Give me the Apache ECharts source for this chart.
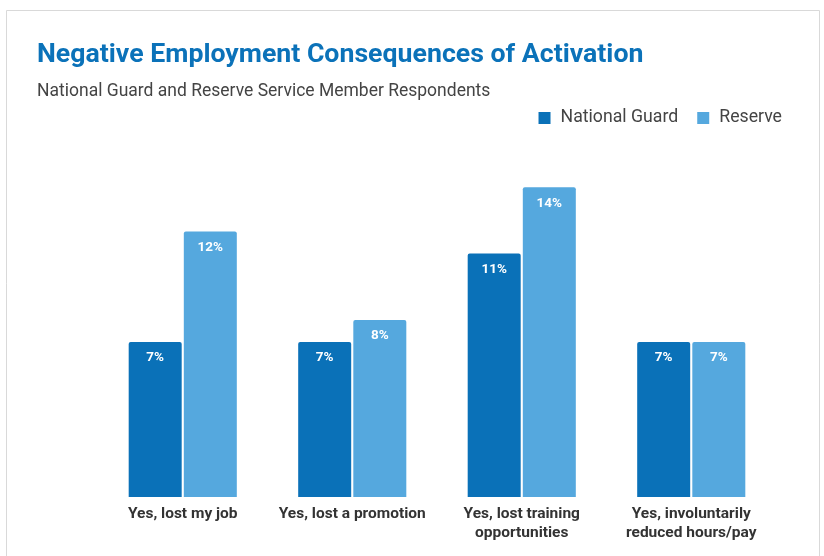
<!DOCTYPE html>
<html><head><meta charset="utf-8">
<script src="https://cdn.jsdelivr.net/npm/echarts@6/dist/echarts.min.js"></script>
<style>html,body{margin:0;padding:0;background:#fff}#c{width:824px;height:556px}</style>
</head><body><div id="c"></div>
<script>
const categories = ['Yes, lost my job', 'Yes, lost a promotion', 'Yes, lost training\nopportunities', 'Yes, involuntarily\nreduced hours/pay'];
const nationalGuard = [7, 7, 11, 7];
const reserve = [12, 8, 14, 7];
const seriesNames = ['National Guard', 'Reserve'];

const chart = echarts.init(document.getElementById('c'), null, {renderer: 'canvas'});
const labelCfg = {show: true, position: 'insideTop', distance: 9, color: '#fff', fontFamily: 'Roboto', fontWeight: 'bold', fontSize: 13.5, formatter: p => p.value + '%'};
chart.setOption({
  animation: false,
  backgroundColor: '#fff',
  graphic: [{type: 'rect', shape: {x: 6.5, y: 10.5, width: 813, height: 560}, style: {fill: '#fff', stroke: '#d9d9d9', lineWidth: 1}, z: -10}],
  title: [{
    text: 'Negative Employment Consequences of Activation',
    left: 37, top: 42, padding: 0,
    textStyle: {fontFamily: 'Roboto', fontWeight: 'bold', fontSize: 26.7, color: '#0b72b9'}
  }, {
    text: 'National Guard and Reserve Service Member Respondents',
    left: 37, top: 83, padding: 0,
    textStyle: {fontFamily: 'Roboto', fontWeight: 'normal', fontSize: 17.5, color: '#444'}
  }],
  legend: {
    data: seriesNames, right: 42, top: 109, padding: 0, itemWidth: 12, itemHeight: 12, itemGap: 19,
    icon: 'rect',
    textStyle: {fontFamily: 'Roboto', fontSize: 17.7, color: '#444', padding: [0, 0, 0, 5]}
  },
  grid: {left: 98, right: 48, top: 165, bottom: 59, containLabel: false},
  xAxis: {
    type: 'category', data: categories,
    axisLine: {show: false}, axisTick: {show: false},
    axisLabel: {fontFamily: 'Roboto', fontWeight: 'bold', fontSize: 15.5, color: '#333', margin: 8, lineHeight: 19, interval: 0}
  },
  yAxis: {type: 'value', min: 0, max: 15, show: false, splitLine: {show: false}},
  series: [
    {name: seriesNames[0], type: 'bar', data: nationalGuard, barWidth: 53, barGap: '4%', itemStyle: {color: '#0a71b8', borderRadius: [2, 2, 0, 0]}, label: labelCfg},
    {name: seriesNames[1], type: 'bar', data: reserve, barWidth: 53, itemStyle: {color: '#55a8de', borderRadius: [2, 2, 0, 0]}, label: labelCfg}
  ]
});
</script></body></html>
